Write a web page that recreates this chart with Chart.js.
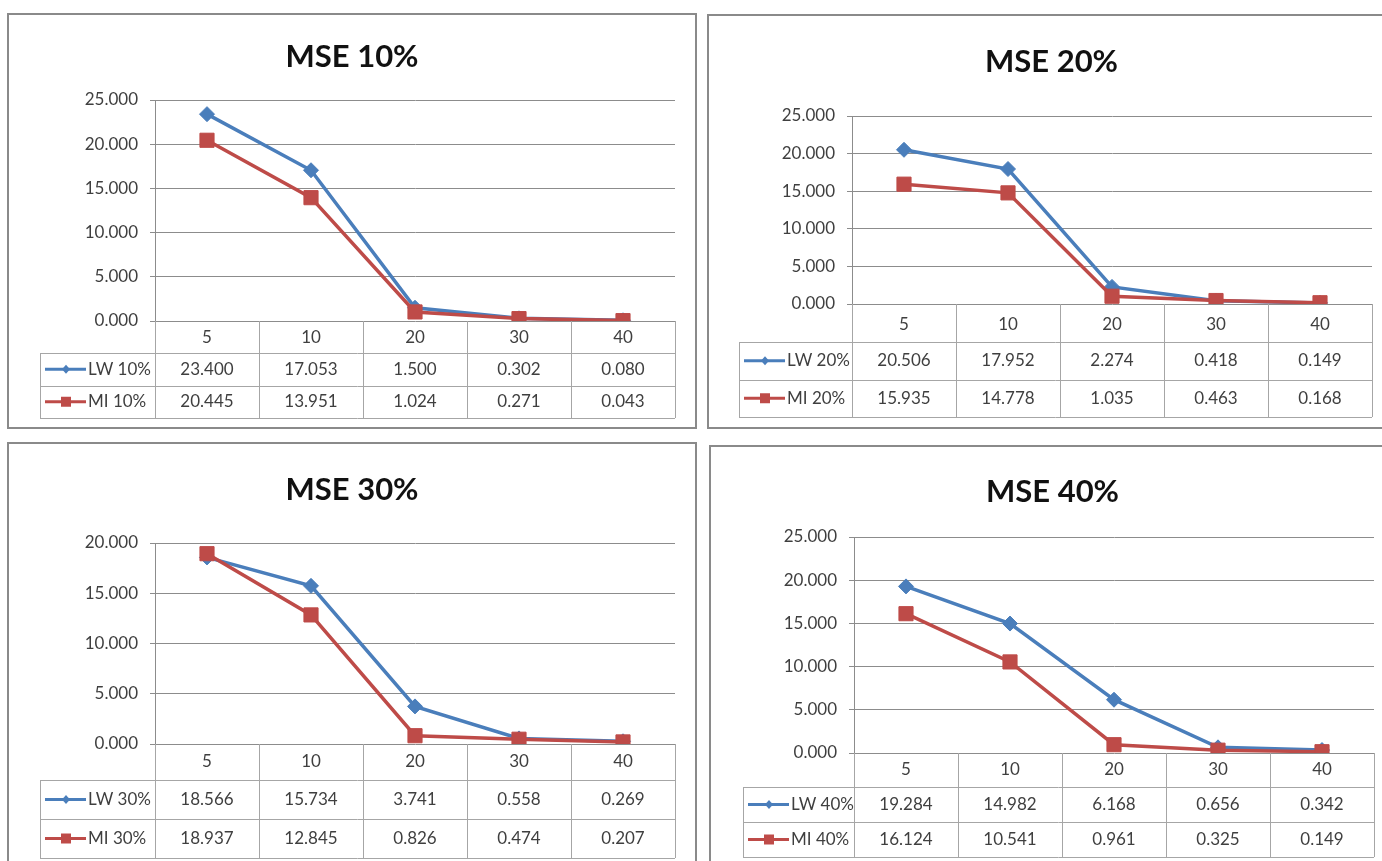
<!DOCTYPE html>
<html>
<head>
<meta charset="utf-8">
<title>MSE</title>
<script src="https://cdn.jsdelivr.net/npm/chart.js@4.4.1/dist/chart.umd.min.js"></script>
<style>
  body { margin: 0; background: #fff; width: 1382px; height: 861px; overflow: hidden; position: relative; }
  .panel { position: absolute; box-sizing: border-box; border: 2px solid #8a8a8a; background: #fff; }
  .panel canvas { position: absolute; left: 0; top: 0; }
</style>
</head>
<body>
<script>
// sample sizes on the x axis
const categories = ['5', '10', '20', '30', '40'];

// MSE per missing rate
const lw10 = [23.400, 17.053, 1.500, 0.302, 0.080];
const mi10 = [20.445, 13.951, 1.024, 0.271, 0.043];
const lw20 = [20.506, 17.952, 2.274, 0.418, 0.149];
const mi20 = [15.935, 14.778, 1.035, 0.463, 0.168];
const lw30 = [18.566, 15.734, 3.741, 0.558, 0.269];
const mi30 = [18.937, 12.845, 0.826, 0.474, 0.207];
const lw40 = [19.284, 14.982, 6.168, 0.656, 0.342];
const mi40 = [16.124, 10.541, 0.961, 0.325, 0.149];

// y axis ticks for each chart
const ticks10 = [0, 5, 10, 15, 20, 25];
const ticks20 = [0, 5, 10, 15, 20, 25];
const ticks30 = [0, 5, 10, 15, 20];
const ticks40 = [0, 5, 10, 15, 20, 25];

const BLUE = '#4a7ebb';
const RED = '#be4b48';
const GRID = '#8c8c8c';
const TABLE_LINE = '#a6a6a6';
const TEXT = '#3f3f3f';
const FONT = 'Lato, "Liberation Sans", sans-serif';
const FONT_SIZE = 17;

Chart.defaults.font.family = FONT;
Chart.defaults.color = TEXT;
Chart.defaults.animation = false;

// page boxes (left, top, right, bottom) and plot edges for each chart
const panels = [
  { title: 'MSE 10%', lwName: 'LW 10%', miName: 'MI 10%', lw: lw10, mi: mi10, ticks: ticks10,
    box: [7, 13, 697, 429], plot: [155, 100, 675, 321], titleY: 57, catY: 338, catH: 32, rowH: 32.5, tableLeft: 40 },
  { title: 'MSE 20%', lwName: 'LW 20%', miName: 'MI 20%', lw: lw20, mi: mi20, ticks: ticks20,
    box: [707, 14, 1396, 429], plot: [852, 116, 1372, 304], titleY: 62, catY: 325, catH: 38, rowH: 37.5, tableLeft: 739 },
  { title: 'MSE 30%', lwName: 'LW 30%', miName: 'MI 30%', lw: lw30, mi: mi30, ticks: ticks30,
    box: [7, 442, 697, 880], plot: [155, 543, 675, 744], titleY: 490, catY: 762, catH: 36, rowH: 39, tableLeft: 40 },
  { title: 'MSE 40%', lwName: 'LW 40%', miName: 'MI 40%', lw: lw40, mi: mi40, ticks: ticks40,
    box: [709, 445, 1396, 880], plot: [854, 537, 1374, 753], titleY: 492, catY: 770, catH: 34, rowH: 35, tableLeft: 743 }
];

// data table under the x axis, Excel style
const dataTable = {
  id: 'dataTable',
  afterDraw(chart, args, opts) {
    const { ctx, chartArea, scales: { x } } = chart;
    const sets = chart.data.datasets;
    const axisY = chartArea.bottom;
    const rowTop = axisY + opts.catH;
    const bottom = rowTop + opts.rowH * sets.length;
    const n = chart.data.labels.length;

    ctx.save();
    ctx.strokeStyle = TABLE_LINE;
    ctx.lineWidth = 1;
    ctx.beginPath();
    // column edges from the axis down
    for (let i = 0; i <= n; i++) {
      const px = Math.round(x.getPixelForValue(i - 0.5)) + 0.5;
      ctx.moveTo(px, axisY);
      ctx.lineTo(px, bottom);
    }
    // row lines
    for (let r = 0; r <= sets.length; r++) {
      const py = Math.round(rowTop + r * opts.rowH) + 0.5;
      ctx.moveTo(opts.left, py);
      ctx.lineTo(chartArea.right, py);
    }
    ctx.moveTo(opts.left + 0.5, rowTop);
    ctx.lineTo(opts.left + 0.5, bottom);
    ctx.stroke();

    ctx.font = FONT_SIZE + 'px ' + FONT;
    ctx.textBaseline = 'middle';
    sets.forEach((ds, r) => {
      const cy = rowTop + opts.rowH * (r + 0.5);
      ctx.fillStyle = TEXT;
      ctx.textAlign = 'center';
      ds.data.forEach((v, i) => {
        ctx.fillText(v.toFixed(3), x.getPixelForValue(i), cy);
      });

      // legend key: short line with the series marker
      const kx = opts.left + 5;
      ctx.strokeStyle = ds.borderColor;
      ctx.fillStyle = ds.borderColor;
      ctx.lineWidth = 3;
      ctx.beginPath();
      ctx.moveTo(kx, cy);
      ctx.lineTo(kx + 41, cy);
      ctx.stroke();
      const mx = kx + 21;
      ctx.beginPath();
      if (ds.pointStyle === 'rectRot') {
        ctx.moveTo(mx, cy - 4.5);
        ctx.lineTo(mx + 4, cy);
        ctx.lineTo(mx, cy + 4.5);
        ctx.lineTo(mx - 4, cy);
        ctx.closePath();
      } else {
        ctx.rect(mx - 5, cy - 5, 10, 10);
      }
      ctx.fill();

      ctx.fillStyle = TEXT;
      ctx.textAlign = 'left';
      ctx.fillText(ds.label, kx + 43, cy);
    });
    ctx.restore();
  }
};

function buildPanel(p) {
  const [bl, bt, br, bb] = p.box;
  const ox = bl + 2, oy = bt + 2;
  const W = br - bl - 4, H = bb - bt - 4;

  const div = document.createElement('div');
  div.className = 'panel';
  div.style.left = bl + 'px';
  div.style.top = bt + 'px';
  div.style.width = (br - bl) + 'px';
  div.style.height = (bb - bt) + 'px';
  const canvas = document.createElement('canvas');
  canvas.width = W;
  canvas.height = H;
  canvas.style.width = W + 'px';
  canvas.style.height = H + 'px';
  div.appendChild(canvas);
  document.body.appendChild(div);

  const pl = p.plot[0] - ox, pt = p.plot[1] - oy, pr = p.plot[2] - ox, pb = p.plot[3] - oy;
  const side = W - pr;
  const titleSize = 31, titleLH = titleSize * 1.2;
  const titleTop = p.titleY - oy - titleLH / 2;
  const xH = p.catH + 2 * p.rowH;
  const catPad = p.catY - p.plot[3] - FONT_SIZE * 0.6;
  const tickList = p.ticks;

  new Chart(canvas, {
    type: 'line',
    data: {
      labels: categories,
      datasets: [
        { label: p.lwName, data: p.lw, borderColor: BLUE, backgroundColor: BLUE, borderWidth: 3.5,
          pointStyle: 'rectRot', pointRadius: 7.5, pointBorderWidth: 1, order: 1 },
        { label: p.miName, data: p.mi, borderColor: RED, backgroundColor: RED, borderWidth: 3.5,
          pointStyle: 'rect', pointRadius: 10, pointBorderWidth: 1, order: 0 }
      ]
    },
    options: {
      responsive: false,
      devicePixelRatio: 1,
      layout: { padding: { left: side, right: side, top: 0, bottom: Math.max(0, H - pb - xH) } },
      elements: { line: { tension: 0 } },
      plugins: {
        legend: { display: false },
        tooltip: { enabled: false },
        title: {
          display: true, text: p.title, color: '#111',
          font: { size: titleSize, weight: 'bold', family: FONT },
          padding: { top: titleTop, bottom: pt - titleTop - titleLH }
        },
        dataTable: { left: p.tableLeft - ox, catH: p.catH, rowH: p.rowH }
      },
      scales: {
        x: {
          offset: true,
          grid: { display: false, drawTicks: false, offset: true },
          border: { display: false },
          ticks: { padding: catPad, font: { size: FONT_SIZE }, color: TEXT, maxRotation: 0 },
          afterFit: s => { s.height = xH; }
        },
        y: {
          min: tickList[0],
          max: tickList[tickList.length - 1],
          afterBuildTicks: s => { s.ticks = tickList.map(v => ({ value: v })); },
          ticks: { callback: v => v.toFixed(3), padding: 12, font: { size: FONT_SIZE }, color: TEXT },
          grid: { color: GRID, lineWidth: 1, tickLength: 5 },
          border: { color: GRID },
          afterFit: s => { s.width = pl - side; }
        }
      }
    },
    plugins: [dataTable]
  });
}

panels.forEach(buildPanel);
</script>
</body>
</html>
